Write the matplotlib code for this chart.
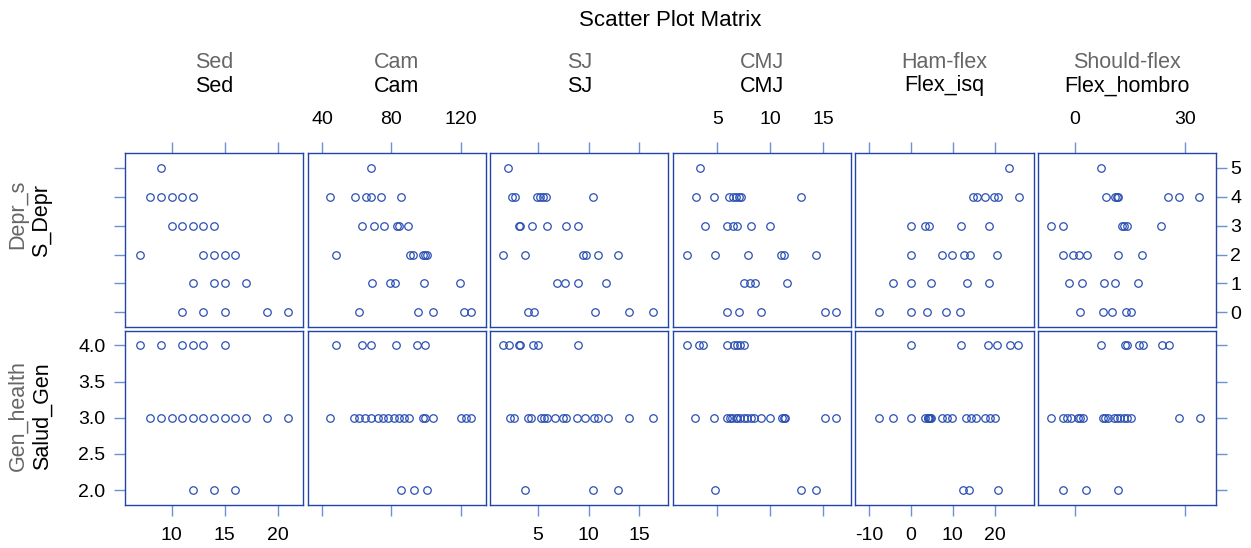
import matplotlib
matplotlib.use('Agg')
import matplotlib.pyplot as plt
from matplotlib.ticker import FormatStrFormatter

plt.rcParams['font.family'] = ['Liberation Sans', 'DejaVu Sans']
plt.rcParams['axes.unicode_minus'] = False

# column variables (x) and row variables (y)
col_names = ['Sed', 'Cam', 'SJ', 'CMJ', 'Flex_isq', 'Flex_hombro']
col_labels = ['Sed', 'Cam', 'SJ', 'CMJ', 'Ham-flex', 'Should-flex']
row_names = ['S_Depr', 'Salud_Gen']
row_labels = ['Depr_s', 'Gen_health']

depr_levels = [5, 4, 3, 2, 1, 0]
health_levels = [4.0, 3.0, 2.0]

# x values grouped by S_Depr level (5..0)
sed_depr = [[9], [8, 9, 10, 11, 12], [10, 11, 12, 13, 14], [7, 13, 14, 15, 16],
            [12, 14, 15, 17], [11, 13, 15, 19, 21]]
cam_depr = [[68.0], [44.8, 58.8, 65.3, 68.0, 74.1, 85.5], [63.0, 70.1, 75.5, 83.2, 84.1, 89.8],
            [48.2, 90.8, 92.7, 98.1, 99.6, 100.8], [69.1, 79.3, 82.0, 98.9, 119.8],
            [61.1, 95.4, 103.9, 122.1, 125.8]]
sj_depr = [[2.0], [2.4, 2.7, 4.9, 5.2, 5.5, 5.8, 10.4], [3.1, 3.2, 4.4, 5.9, 7.8, 8.9],
           [1.6, 3.7, 9.4, 9.7, 10.9, 12.9], [6.9, 7.7, 8.9, 11.7], [4.0, 4.6, 10.6, 14.0, 16.3]]
cmj_depr = [[3.4], [3.0, 4.7, 6.1, 6.5, 6.8, 7.05, 7.2, 12.9], [3.8, 5.9, 6.5, 6.9, 8.2, 10.0],
            [2.1, 4.8, 7.9, 11.0, 11.3, 14.3], [7.5, 8.1, 8.6, 11.6], [5.9, 7.0, 9.1, 15.2, 16.2]]
isq_depr = [[23.5], [14.9, 15.8, 17.7, 19.9, 20.8, 25.7], [0, 3.5, 4.4, 12.0, 18.6],
            [0, 7.5, 9.9, 12.6, 14.2, 20.5], [-4.15, 0, 4.9, 13.5, 18.6], [-7.6, 0, 3.9, 8.5, 11.8]]
hom_depr = [[7.2], [8.5, 10.9, 11.4, 11.8, 25.4, 28.3, 33.8], [-6.5, -3.0, 12.9, 13.4, 14.3, 23.5],
            [-3.0, -0.5, 1.1, 3.3, 11.8, 18.4], [-1.5, 2.1, 7.9, 11.0, 17.3],
            [1.6, 7.8, 10.1, 13.9, 15.2]]

# x values grouped by Salud_Gen level (4, 3, 2)
sed_health = [[7, 9, 11, 12, 13, 15], [8, 9, 10, 11, 12, 13, 14, 15, 16, 17, 19, 21], [12, 14, 16]]
cam_health = [[48.2, 63.0, 68.0, 82.9, 94.7, 99.1],
              [44.8, 58.6, 61.6, 64.9, 68.4, 72.0, 75.1, 78.3, 81.4, 84.1, 87.0, 90.1, 98.1,
               99.6, 103.9, 120.2, 123.1, 125.8],
              [85.5, 93.3, 100.6]]
sj_health = [[1.6, 2.1, 3.1, 3.2, 4.5, 5.0, 8.9],
             [2.2, 2.6, 4.0, 4.3, 5.3, 5.6, 5.9, 6.7, 7.5, 7.8, 8.8, 9.6, 10.5, 10.9, 11.9,
              14.0, 16.3],
             [3.7, 10.4, 12.9]]
cmj_health = [[2.1, 3.3, 3.6, 5.9, 6.6, 6.9, 7.1, 7.5],
              [2.9, 4.7, 5.9, 6.2, 6.4, 6.8, 6.9, 7.1, 7.5, 7.8, 8.2, 8.5, 9.1, 10.0, 11.1,
               11.3, 11.4, 15.2, 16.2],
              [4.8, 12.9, 14.3]]
isq_health = [[0, 12.0, 18.4, 20.5, 23.6, 25.5],
              [-7.6, -4.15, 0, 3.4, 4.0, 4.2, 4.4, 4.6, 4.9, 7.5, 8.6, 9.8, 13.2, 14.3, 15.6,
               17.7, 18.9, 20.0],
              [12.4, 13.9, 20.8]]
hom_health = [[7.1, 13.8, 14.3, 17.4, 18.6, 23.6, 25.6],
              [-6.5, -3.1, -2.0, -1.0, 1.0, 1.6, 2.2, 7.8, 8.3, 9.2, 10.6, 11.5, 12.2, 13.3,
               14.2, 15.2, 28.4, 33.9],
              [-3.0, 3.0, 11.9]]

x_depr = [sed_depr, cam_depr, sj_depr, cmj_depr, isq_depr, hom_depr]
x_health = [sed_health, cam_health, sj_health, cmj_health, isq_health, hom_health]

x_ticks = [[10, 15, 20], [40, 80, 120], [5, 10, 15], [5, 10, 15], [-10, 0, 10, 20], [0, 30]]
x_lims = [(5.6, 22.4), (31.7, 134.4), (0.29, 17.86), (0.78, 17.65), (-13.2, 29.3), (-9.9, 38.4)]
y_ticks = [[0, 1, 2, 3, 4, 5], [2.0, 2.5, 3.0, 3.5, 4.0]]
y_lims = [(-0.5, 5.5), (1.8, 4.2)]

W, H = 1251, 548
fig = plt.figure(figsize=(W / 100, H / 100), dpi=100)

pt_col = '#2b50b4'
box_col = '#2345a5'
tick_col = '#6f8fd6'
fs_tick = 14
fs_lab = 15.5

left0, pw, step = 125, 178.2, 182.6
row_top = [153.3, 331.0]
ph = 173.5

for r in range(2):
    for c in range(6):
        x0 = left0 + c * step
        ax = fig.add_axes([x0 / W, 1 - (row_top[r] + ph) / H, pw / W, ph / H])
        if r == 0:
            groups, levels = x_depr[c], depr_levels
        else:
            groups, levels = x_health[c], health_levels
        for xs, lv in zip(groups, levels):
            ax.plot(xs, [lv] * len(xs), 'o', mfc='none', mec=pt_col, ms=5.4, mew=0.9)
        ax.set_xlim(*x_lims[c])
        ax.set_ylim(*y_lims[r])
        ax.set_xticks(x_ticks[c])
        ax.set_yticks(y_ticks[r])
        if r == 1:
            ax.yaxis.set_major_formatter(FormatStrFormatter('%.1f'))
        for s in ax.spines.values():
            s.set_color(box_col)
            s.set_linewidth(1.0)
        ax.tick_params(which='both', direction='out', length=8, width=1.0, color=tick_col,
                       labelsize=fs_tick, top=(r == 0), bottom=(r == 1),
                       labeltop=(r == 0 and c % 2 == 1), labelbottom=(r == 1 and c % 2 == 0),
                       left=(c == 0), right=(c == 5),
                       labelleft=(c == 0 and r == 1), labelright=(c == 5 and r == 0))
        ax.tick_params(axis='x', pad=10 if r == 0 else 8)
        ax.tick_params(axis='y', pad=6 if r == 1 else 2)

# column headers
for c in range(6):
    xc = (left0 + c * step + pw / 2) / W
    fig.text(xc, 1 - 62 / H, col_labels[c], ha='center', va='center', fontsize=fs_lab, color='#666666')
    fig.text(xc, 1 - 86 / H, col_names[c], ha='center', va='center', fontsize=fs_lab, color='black')

# row headers
row_yc = [[214, 220], [416, 416]]
for r in range(2):
    fig.text(18 / W, 1 - row_yc[r][0] / H, row_labels[r], ha='center', va='center', rotation=90,
             fontsize=fs_lab, color='#666666')
    fig.text(42 / W, 1 - row_yc[r][1] / H, row_names[r], ha='center', va='center', rotation=90,
             fontsize=fs_lab, color='black')

fig.text(670 / W, 1 - 20 / H, 'Scatter Plot Matrix', ha='center', va='center', fontsize=16)

fig.savefig('out.png', dpi=100)
